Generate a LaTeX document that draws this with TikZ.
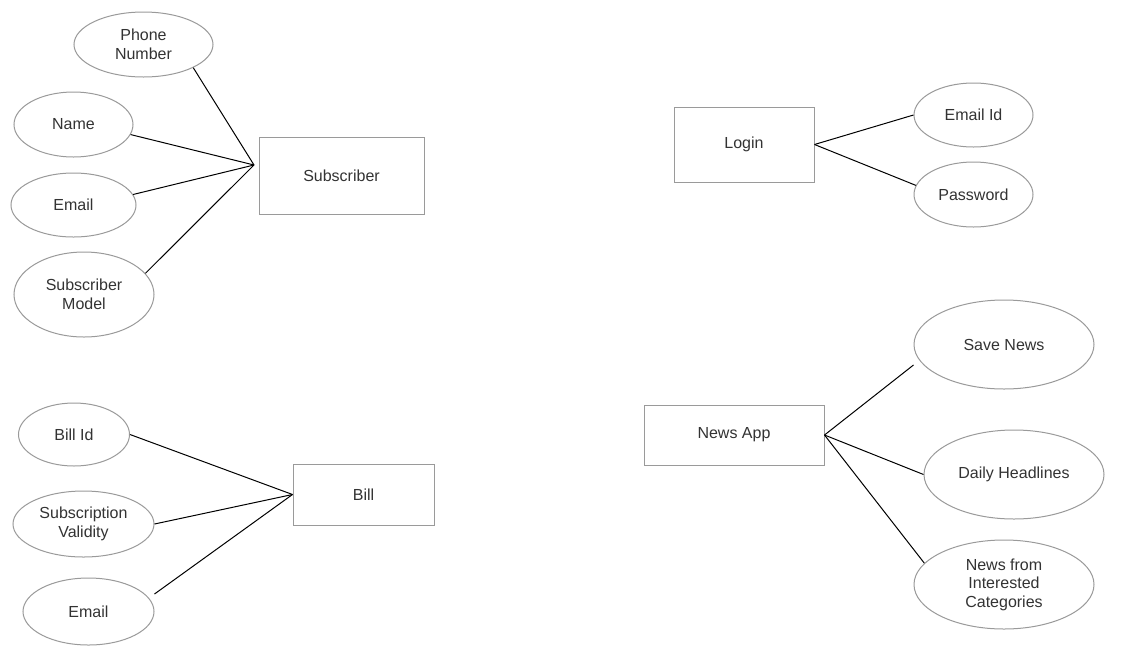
\documentclass[tikz,border=0pt]{standalone}
\usepackage{fontspec}
\setmainfont{Liberation Sans}
\usetikzlibrary{shapes.geometric,calc}
\definecolor{bordergrey}{HTML}{9A9A9A}
\definecolor{textgrey}{HTML}{333333}
\tikzset{
  attr/.style={ellipse, draw=bordergrey, line width=1pt, inner sep=0pt, align=center, text=textgrey,
    font=\fontsize{16}{18.5}\selectfont},
  entity/.style={rectangle, draw=bordergrey, line width=1pt, inner sep=0pt, align=center, text=textgrey,
    font=\fontsize{16}{18.5}\selectfont},
  link/.style={draw=black, line width=1pt}
}
\begin{document}
\begin{tikzpicture}[x=1pt,y=-1pt]
\useasboundingbox[fill=white] (0,0) rectangle (1126,654);
% Subscriber group
\node[entity, minimum width=165pt, minimum height=77pt] (sub) at (341.5,175.5) {Subscriber};
\coordinate (subj) at (254,165);
\node[attr, minimum width=139pt, minimum height=65pt] (phone) at (143.5,44.5) {Phone\\Number};
\node[attr, minimum width=119pt, minimum height=65pt] (name) at (73.5,124.5) {Name};
\node[attr, minimum width=125pt, minimum height=64pt] (email) at (73.5,205) {Email};
\node[attr, minimum width=140pt, minimum height=85pt] (smodel) at (84,294.5) {Subscriber\\Model};
\draw[link] (phone.-25) -- (subj);
\draw[link] (name.-10) -- (subj);
\draw[link] (email.10) -- (subj);
\draw[link] (smodel.19) -- (subj);
% Login group
\node[entity, minimum width=140pt, minimum height=75pt] (login) at (744,144.5) {Login};
\node[attr, minimum width=119pt, minimum height=64pt] (emailid) at (973.5,115) {Email Id};
\node[attr, minimum width=119pt, minimum height=65pt] (pwd) at (973.5,194.5) {Password};
\draw[link] (login.east) -- (emailid.west);
\draw[link] (login.east) -- (pwd.171);
% News App group
\node[entity, minimum width=180pt, minimum height=60pt] (app) at (734,435) {News App};
\node[attr, minimum width=180pt, minimum height=89pt] (save) at (1004,344.5) {Save News};
\node[attr, minimum width=180pt, minimum height=89pt] (daily) at (1014,474.5) {Daily Headlines};
\node[attr, minimum width=180pt, minimum height=89pt] (cat) at (1004,584.5) {News from\\Interested\\Categories};
\coordinate (savein) at ($(save.west)+(0,20.5)$);
\draw[link] (app.east) -- (savein);
\draw[link] (app.east) -- (daily.west);
\draw[link] (app.east) -- (cat.165);
% Bill group
\node[entity, minimum width=141pt, minimum height=61pt] (bill) at (363.5,494.5) {Bill};
\node[attr, minimum width=111pt, minimum height=63pt] (billid) at (74,434.5) {Bill Id};
\node[attr, minimum width=141pt, minimum height=66pt] (valid) at (83.5,524) {Subscription\\Validity};
\node[attr, minimum width=131pt, minimum height=67pt] (email2) at (88.5,611.5) {Email};
\coordinate (email2out) at ($(email2.east)+(0,-17.5)$);
\draw[link] (billid.east) -- (bill.west);
\draw[link] (valid.east) -- (bill.west);
\draw[link] (email2out) -- (bill.west);
\end{tikzpicture}
\end{document}
